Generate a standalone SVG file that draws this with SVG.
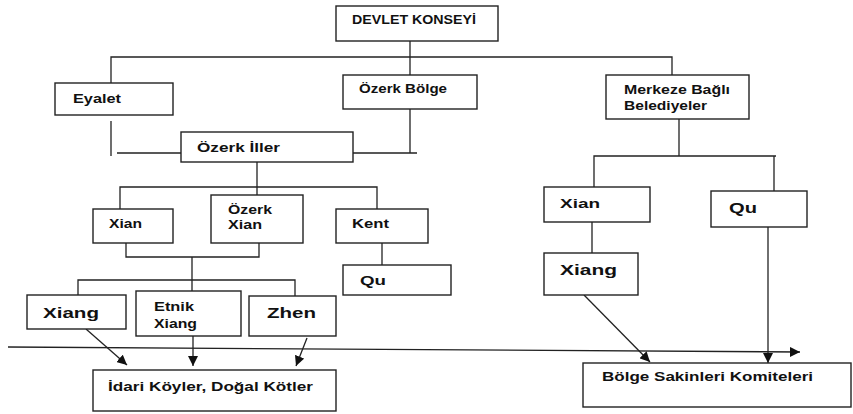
<svg xmlns="http://www.w3.org/2000/svg" width="853" height="414" viewBox="0 0 853 414">
<style>
.box{fill:#fff;stroke:#222;stroke-width:1.4}
.ln{fill:none;stroke:#222;stroke-width:1.3}
.t{font-family:"Liberation Sans",Arial,sans-serif;font-weight:bold;font-size:13px;fill:#111}
.tb{font-family:"Liberation Sans",Arial,sans-serif;font-weight:bold;font-size:15px;fill:#111}
</style>
<defs>
<marker id="ah" viewBox="0 0 10 10" refX="10" refY="5" markerWidth="10" markerHeight="10" markerUnits="userSpaceOnUse" orient="auto">
<path d="M0,0 L10,5 L0,10 z" fill="#111"/>
</marker>
</defs>
<rect width="853" height="414" fill="#fff"/>
<g id="connectors">
<path class="ln" d="M410,41 V75 M111,83 V57 H672 V75"/>
<path class="ln" d="M111,121 V156 M117,153 H181 M353,153 H417 M410,109 V153"/>
<path class="ln" d="M257,162 V195 M120,209 V187 H377 V209"/>
<path class="ln" d="M126,243 V257 H259 V243 M192,257 V291 M78,295 V280 H295 V296"/>
<path class="ln" d="M382,243 V265"/>
<path class="ln" d="M679,119 V156 M594,187 V156 H776 M774,156 V191 M592,222 V253"/>
<path class="ln" d="M8,347 L800,352" marker-end="url(#ah)"/>
<path class="ln" d="M86,329 L127,365" marker-end="url(#ah)"/>
<path class="ln" d="M193,336 L193,366" marker-end="url(#ah)"/>
<path class="ln" d="M307,338 L296,366" marker-end="url(#ah)"/>
<path class="ln" d="M584,295 L650,362" marker-end="url(#ah)"/>
<path class="ln" d="M768,227 L768,363" marker-end="url(#ah)"/>
</g>
<g id="devlet"><rect class="box" x="336" y="6" width="162" height="35"/><text class="t" x="352" y="24" textLength="124" lengthAdjust="spacingAndGlyphs">DEVLET KONSEYİ</text></g>
<g id="eyalet"><rect class="box" x="55" y="83" width="118" height="32"/><text class="t" x="73" y="103" textLength="48" lengthAdjust="spacingAndGlyphs">Eyalet</text></g>
<g id="ozerk-bolge"><rect class="box" x="343" y="75" width="134" height="34"/><text class="t" x="359" y="93" textLength="88" lengthAdjust="spacingAndGlyphs">Özerk Bölge</text></g>
<g id="merkeze"><rect class="box" x="606" y="75" width="143" height="44"/><text class="t" x="624" y="94" textLength="106" lengthAdjust="spacingAndGlyphs">Merkeze Bağlı</text><text class="t" x="624" y="110" textLength="83" lengthAdjust="spacingAndGlyphs">Belediyeler</text></g>
<g id="ozerk-iller"><rect class="box" x="181" y="132" width="172" height="30"/><text class="t" x="197" y="152" textLength="83" lengthAdjust="spacingAndGlyphs">Özerk İller</text></g>
<g id="xian"><rect class="box" x="93" y="209" width="80" height="34"/><text class="t" x="109" y="228" textLength="33" lengthAdjust="spacingAndGlyphs">Xian</text></g>
<g id="ozerk-xian"><rect class="box" x="211" y="195" width="92" height="48"/><text class="t" x="228" y="214" textLength="44" lengthAdjust="spacingAndGlyphs">Özerk</text><text class="t" x="228" y="229" textLength="34" lengthAdjust="spacingAndGlyphs">Xian</text></g>
<g id="kent"><rect class="box" x="336" y="209" width="92" height="34"/><text class="t" x="352" y="228" textLength="37" lengthAdjust="spacingAndGlyphs">Kent</text></g>
<g id="qu-left"><rect class="box" x="343" y="265" width="108" height="30"/><text class="t" x="360" y="285" textLength="26" lengthAdjust="spacingAndGlyphs">Qu</text></g>
<g id="xiang-left"><rect class="box" x="27" y="295" width="99" height="34"/><text class="tb" x="43" y="318" textLength="56" lengthAdjust="spacingAndGlyphs">Xiang</text></g>
<g id="etnik-xiang"><rect class="box" x="136" y="291" width="105" height="45"/><text class="t" x="154" y="311" textLength="40" lengthAdjust="spacingAndGlyphs">Etnik</text><text class="t" x="154" y="328" textLength="43" lengthAdjust="spacingAndGlyphs">Xiang</text></g>
<g id="zhen"><rect class="box" x="249" y="296" width="87" height="40"/><text class="tb" x="267" y="318" textLength="49" lengthAdjust="spacingAndGlyphs">Zhen</text></g>
<g id="idari"><rect class="box" x="93" y="370" width="243" height="41"/><text class="t" x="108" y="391" textLength="205" lengthAdjust="spacingAndGlyphs">İdari Köyler, Doğal Kötler</text></g>
<g id="xian-right"><rect class="box" x="544" y="187" width="106" height="35"/><text class="t" x="560" y="208" textLength="40" lengthAdjust="spacingAndGlyphs">Xian</text></g>
<g id="qu-right"><rect class="box" x="711" y="191" width="96" height="36"/><text class="tb" x="729" y="213" textLength="28" lengthAdjust="spacingAndGlyphs">Qu</text></g>
<g id="xiang-right"><rect class="box" x="544" y="253" width="94" height="42"/><text class="tb" x="560" y="275" textLength="57" lengthAdjust="spacingAndGlyphs">Xiang</text></g>
<g id="bolge"><rect class="box" x="583" y="363" width="268" height="44"/><text class="t" x="602" y="381" textLength="211" lengthAdjust="spacingAndGlyphs">Bölge Sakinleri Komiteleri</text></g>
</svg>
